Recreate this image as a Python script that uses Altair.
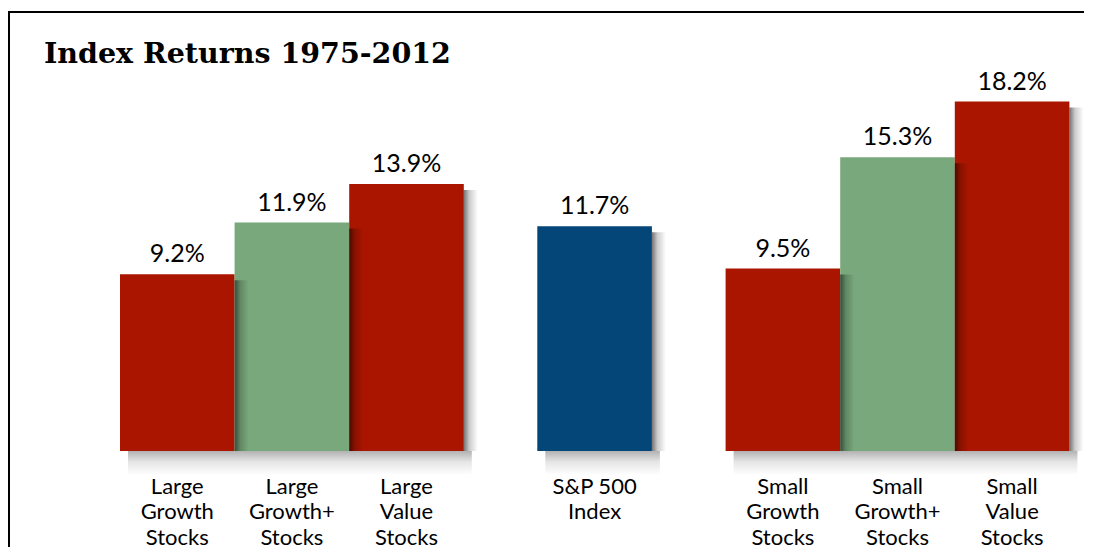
import altair as alt
import pandas as pd

# ---- data ----
groups = ["Large", "Large", "Large", "Index", "Small", "Small", "Small"]
categories = [
    "Large\nGrowth\nStocks", "Large\nGrowth+\nStocks", "Large\nValue\nStocks",
    "S&P 500\nIndex",
    "Small\nGrowth\nStocks", "Small\nGrowth+\nStocks", "Small\nValue\nStocks",
]
kinds = ["Growth", "Growth+", "Value", "Index", "Growth", "Growth+", "Value"]
returns = [9.2, 11.9, 13.9, 11.7, 9.5, 15.3, 18.2]
title_text = "Index Returns 1975-2012"

kind_domain = ["Growth", "Growth+", "Value", "Index"]
kind_colors = ["#aa1500", "#78a87b", "#aa1500", "#034677"]

df = pd.DataFrame({"group": groups, "category": categories, "kind": kinds, "ret": returns})

H = 384
BW = 114.6
SW = 14  # shadow width
FONT = "Lato"

right_shadow = alt.Gradient(
    gradient="linear", x1=0, x2=1, y1=0, y2=0,
    stops=[alt.GradientStop(color="rgba(0,0,0,0.55)", offset=0),
           alt.GradientStop(color="rgba(0,0,0,0.2)", offset=0.4),
           alt.GradientStop(color="rgba(0,0,0,0)", offset=1)],
)
bottom_shadow = alt.Gradient(
    gradient="linear", x1=0, x2=0, y1=0, y2=1,
    stops=[alt.GradientStop(color="rgba(0,0,0,0.3)", offset=0),
           alt.GradientStop(color="rgba(0,0,0,0.1)", offset=0.45),
           alt.GradientStop(color="rgba(0,0,0,0)", offset=1)],
)


def panel(g, first=False):
    d = df[df.group == g]
    n = len(d)
    yscale = alt.Scale(domain=[0, 20])
    base = alt.Chart(d).encode(
        x=alt.X(
            "category:N",
            sort=list(d.category),
            scale=alt.Scale(paddingInner=0, paddingOuter=0),
            axis=alt.Axis(
                title=None, labelAngle=0, domain=False, ticks=False,
                labelExpr="split(datum.value, '\\n')",
                labelFont=FONT, labelFontSize=22, labelColor="black",
                labelLineHeight=25.5, labelPadding=25, labelLimit=0,
            ),
        )
    )
    bars = base.mark_bar().encode(
        y=alt.Y("ret:Q", scale=yscale, axis=None),
        color=alt.Color("kind:N", scale=alt.Scale(domain=kind_domain, range=kind_colors), legend=None),
    )
    rshadow = base.mark_bar(fill=right_shadow, width=SW, xOffset=BW / 2 + SW / 2, yOffset=6).encode(
        y=alt.Y("ret:Q", scale=yscale, axis=None), y2=alt.datum(0)
    )
    bshadow = base.mark_rect(fill=bottom_shadow, xOffset=8, x2Offset=8, y2Offset=24).encode(
        y=alt.Y(datum=0, scale=yscale, axis=None), y2=alt.datum(0)
    )
    labels = base.transform_calculate(
        label="format(datum.ret, '.1f') + '%'"
    ).mark_text(font=FONT, fontSize=25, color="black", baseline="alphabetic", dy=-12).encode(
        y=alt.Y("ret:Q", scale=yscale, axis=None), text="label:N"
    )
    layers = [bars, rshadow, bshadow, labels]
    if first:
        one = alt.Chart(pd.DataFrame({"t": [title_text]}))
        top_rule = one.mark_rule(color="black", strokeWidth=2).encode(
            x=alt.value(-111), x2=alt.value(964), y=alt.value(-55)
        )
        left_rule = one.mark_rule(color="black", strokeWidth=2).encode(
            x=alt.value(-111), y=alt.value(-56), y2=alt.value(480)
        )
        title = one.mark_text(
            font="DejaVu Serif", fontSize=28.5, fontWeight="bold", color="black",
            align="left", baseline="alphabetic",
        ).encode(x=alt.value(-76), y=alt.value(-4), text="t:N")
        layers = [top_rule, left_rule, title] + layers
    return alt.layer(*layers).properties(width=BW * n, height=H)


chart = alt.hconcat(
    panel("Large", first=True), panel("Index"), panel("Small"),
    spacing=73.3, bounds="flush",
).properties(
    padding={"left": 0, "top": 2, "right": 0, "bottom": 0},
    background="white",
).configure_view(stroke=None)

chart.save("out.html", embed_options={"renderer": "svg", "actions": False})
